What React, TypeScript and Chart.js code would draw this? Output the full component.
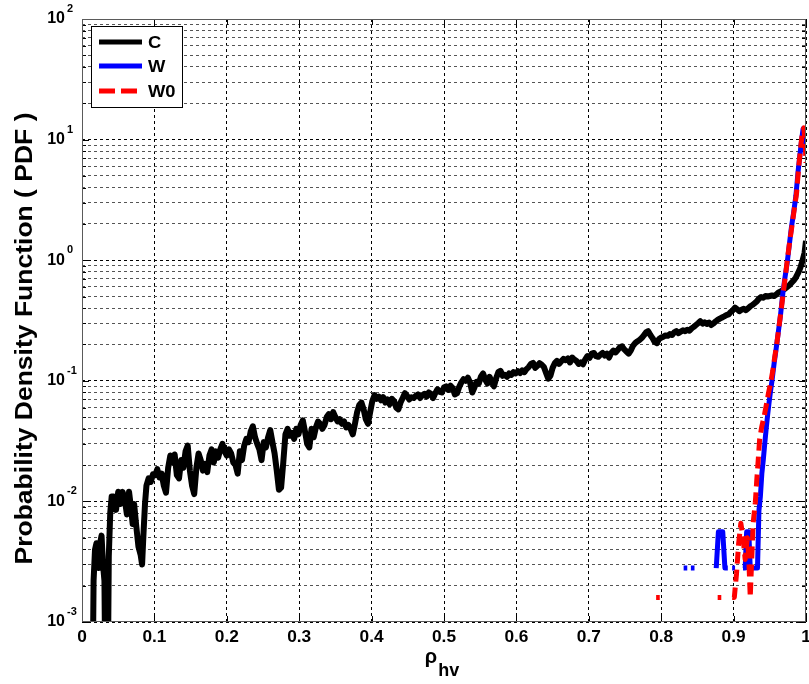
import React, { useEffect, useRef } from "react";
import { Chart, registerables } from "chart.js";

Chart.register(...registerables);

const FONT = '"Liberation Sans", Arial, Helvetica, sans-serif';

// ---------- axis ticks ----------
const X_TICKS = [0, 0.1, 0.2, 0.3, 0.4, 0.5, 0.6, 0.7, 0.8, 0.9, 1];
const X_TICK_LABELS = ["0", "0.1", "0.2", "0.3", "0.4", "0.5", "0.6", "0.7", "0.8", "0.9", "1"];
const Y_DECADES = [0.001, 0.01, 0.1, 1, 10, 100];
const Y_EXPONENTS = ["-3", "-2", "-1", "0", "1", "2"];
const Y_MINOR_MULTIPLIERS = [1, 2, 3, 4, 5, 6, 7, 8, 9];

const SERIES_LABELS = ["C", "W", "W0"];
const X_TITLE_MAIN = "\u03c1";
const X_TITLE_SUB = "hv";
const Y_TITLE = "Probability Density Function ( PDF )";

// ---------- series C (black) ----------
const C_X = [
  0.014, 0.016, 0.018, 0.020, 0.023, 0.025, 0.027, 0.029, 0.031, 0.033,
  0.035, 0.037, 0.039, 0.041, 0.044, 0.047, 0.050, 0.053, 0.056, 0.059,
  0.062, 0.065, 0.068, 0.070, 0.072, 0.075, 0.078, 0.081, 0.083, 0.085,
  0.087, 0.089,
  0.092, 0.095, 0.098, 0.101, 0.104, 0.107, 0.110, 0.113, 0.116, 0.119,
  0.122, 0.125, 0.128, 0.131, 0.134, 0.137, 0.140, 0.143, 0.146, 0.149,
  0.152, 0.155, 0.158, 0.161, 0.164, 0.167, 0.170, 0.173, 0.176, 0.179,
  0.182, 0.185, 0.188, 0.191, 0.194, 0.197, 0.200, 0.203, 0.206, 0.209,
  0.212, 0.215, 0.218, 0.221, 0.224, 0.227, 0.230, 0.233, 0.236, 0.239,
  0.242, 0.245, 0.248, 0.251, 0.254, 0.257, 0.260, 0.263, 0.266, 0.269,
  0.272, 0.275, 0.278, 0.281, 0.284, 0.287, 0.290, 0.293, 0.296, 0.299,
  0.302, 0.305, 0.308, 0.311, 0.314, 0.317, 0.320, 0.323, 0.326, 0.329,
  0.332, 0.335, 0.338, 0.341, 0.344, 0.347, 0.350, 0.353, 0.356, 0.359,
  0.362, 0.365, 0.368, 0.371, 0.374, 0.377, 0.380, 0.383, 0.386, 0.389,
  0.392, 0.395, 0.398, 0.401, 0.404, 0.407, 0.410, 0.413, 0.416, 0.419,
  0.422, 0.425, 0.428, 0.431, 0.434, 0.437, 0.440, 0.443, 0.446, 0.449,
  0.452, 0.455, 0.458, 0.461, 0.464, 0.467, 0.470, 0.473, 0.476, 0.479,
  0.482, 0.485, 0.488, 0.491, 0.494, 0.497, 0.500, 0.503, 0.506, 0.509,
  0.512, 0.515, 0.518, 0.521, 0.524, 0.527, 0.530, 0.533, 0.536, 0.539,
  0.542, 0.545, 0.548, 0.551, 0.554, 0.557, 0.560, 0.563, 0.566, 0.569,
  0.572, 0.575, 0.578, 0.581, 0.584, 0.587, 0.590, 0.593, 0.596, 0.599,
  0.602, 0.605, 0.608, 0.611, 0.614, 0.617, 0.620, 0.623, 0.626, 0.629,
  0.632, 0.635, 0.638, 0.641, 0.644, 0.647, 0.650, 0.653, 0.656, 0.659,
  0.662, 0.665, 0.668, 0.671, 0.674, 0.677, 0.680, 0.683, 0.686, 0.689,
  0.692, 0.695, 0.698, 0.701, 0.704, 0.707, 0.710, 0.713, 0.716, 0.719,
  0.722, 0.725, 0.728, 0.731, 0.734, 0.737, 0.740, 0.743, 0.746, 0.749,
  0.752, 0.755, 0.758, 0.761, 0.764, 0.767, 0.770, 0.773, 0.776, 0.779,
  0.782, 0.785, 0.788, 0.791, 0.794, 0.797, 0.800, 0.803, 0.806, 0.809,
  0.812, 0.815, 0.818, 0.821, 0.824, 0.827, 0.830, 0.833, 0.836, 0.839,
  0.842, 0.845, 0.848, 0.851, 0.854, 0.857, 0.860, 0.863, 0.866, 0.869,
  0.872, 0.875, 0.878, 0.881, 0.884, 0.887, 0.890, 0.893, 0.896, 0.899,
  0.902, 0.905, 0.908, 0.911, 0.914, 0.917, 0.920, 0.923, 0.926, 0.929,
  0.932, 0.935, 0.938, 0.941, 0.944, 0.947, 0.950, 0.953, 0.956, 0.959,
  0.962, 0.965, 0.968, 0.971, 0.974, 0.977, 0.980, 0.983, 0.986, 0.989,
  0.992, 0.995, 0.998, 1.000,
];
const C_Y = [
  0.0001, 0.0022, 0.004, 0.0045, 0.0028, 0.0045, 0.0052, 0.003, 0.0022, 0.0001,
  0.0001, 0.0035, 0.008, 0.011, 0.011, 0.0085, 0.012, 0.0095, 0.012, 0.0105,
  0.0078, 0.012, 0.0085, 0.0065, 0.0095, 0.0062, 0.0042, 0.0036, 0.003, 0.0055,
  0.0095, 0.0135,
  0.0155, 0.0145, 0.0168, 0.0165, 0.0185, 0.0158, 0.017, 0.0135, 0.0118, 0.019,
  0.024, 0.021, 0.0245, 0.0165, 0.0155, 0.022, 0.019, 0.026, 0.029, 0.018,
  0.0135, 0.0115, 0.019, 0.025, 0.022, 0.018, 0.0205, 0.0175, 0.024, 0.027,
  0.021, 0.026, 0.023, 0.027, 0.030, 0.026, 0.024, 0.027, 0.025, 0.021,
  0.020, 0.017, 0.026, 0.022, 0.029, 0.033, 0.031, 0.038, 0.042, 0.034,
  0.030, 0.027, 0.022, 0.031, 0.028, 0.034, 0.039, 0.031, 0.025, 0.018,
  0.0125, 0.013, 0.021, 0.036, 0.040, 0.035, 0.037, 0.033, 0.040, 0.036,
  0.043, 0.047, 0.038, 0.030, 0.028, 0.040, 0.034, 0.041, 0.046, 0.044,
  0.040, 0.043, 0.050, 0.053, 0.048, 0.055, 0.050, 0.046, 0.048, 0.044,
  0.046, 0.041, 0.043, 0.040, 0.036, 0.044, 0.055, 0.063, 0.066, 0.058,
  0.048, 0.044, 0.055, 0.068, 0.076, 0.071, 0.074, 0.069, 0.073, 0.066,
  0.070, 0.064, 0.071, 0.068, 0.060, 0.058, 0.066, 0.072, 0.079, 0.075,
  0.070, 0.073, 0.072, 0.075, 0.077, 0.072, 0.076, 0.078, 0.074, 0.080,
  0.078, 0.072, 0.079, 0.085, 0.081, 0.080, 0.088, 0.090, 0.084, 0.091,
  0.087, 0.077, 0.079, 0.089, 0.097, 0.103, 0.100, 0.106, 0.097, 0.080,
  0.088, 0.098, 0.095, 0.108, 0.115, 0.102, 0.095, 0.108, 0.097, 0.090,
  0.105, 0.118, 0.121, 0.110, 0.112, 0.108, 0.115, 0.112, 0.118, 0.115,
  0.120, 0.116, 0.122, 0.118, 0.125, 0.130, 0.138, 0.141, 0.128, 0.133,
  0.140, 0.136, 0.130, 0.116, 0.104, 0.110, 0.128, 0.140, 0.146, 0.138,
  0.145, 0.152, 0.148, 0.153, 0.142, 0.156, 0.150, 0.146, 0.138, 0.142,
  0.137, 0.150, 0.160, 0.155, 0.168, 0.170, 0.160, 0.158, 0.165, 0.170,
  0.162, 0.168, 0.156, 0.170, 0.178, 0.172, 0.180, 0.190, 0.193, 0.182,
  0.175, 0.168, 0.178, 0.195, 0.205, 0.212, 0.218, 0.226, 0.238, 0.252,
  0.258, 0.240, 0.226, 0.210, 0.205, 0.222, 0.228, 0.232, 0.238, 0.236,
  0.244, 0.240, 0.252, 0.258, 0.248, 0.256, 0.262, 0.258, 0.265, 0.260,
  0.272, 0.280, 0.290, 0.300, 0.312, 0.298, 0.306, 0.296, 0.304, 0.290,
  0.298, 0.310, 0.320, 0.328, 0.335, 0.342, 0.350, 0.355, 0.372, 0.385,
  0.405, 0.392, 0.378, 0.388, 0.395, 0.385, 0.398, 0.415, 0.425, 0.440,
  0.455, 0.480, 0.495, 0.488, 0.505, 0.500, 0.505, 0.510, 0.505, 0.520,
  0.540, 0.550, 0.565, 0.580, 0.600, 0.620, 0.650, 0.680, 0.720, 0.780,
  0.860, 0.980, 1.15, 1.45,
];

// ---------- series W (blue) ----------
const W_X = [
  0.831, 0.836, 0.838, 0.841, 0.846, 0.860,
  0.876, 0.879, 0.885, 0.888, 0.892, 0.895,
  0.898, 0.902, 0.905,
  0.913, 0.916, 0.918, 0.921, 0.923, 0.927, 0.930, 0.933,
  0.935, 0.937, 0.939, 0.941, 0.943, 0.945, 0.947, 0.949, 0.951, 0.953,
  0.956, 0.958, 0.960, 0.962, 0.965, 0.968, 0.971, 0.974, 0.977, 0.980,
  0.983, 0.986, 0.989, 0.992, 0.994, 0.996, 0.998, 1.000,
];
const W_Y = [
  0.0028, 0.0028, null, 0.0028, 0.0028, null,
  0.0028, 0.0056, 0.0056, 0.0028, 0.0028, null,
  0.0028, 0.0028, null,
  0.0028, 0.0028, 0.0056, 0.0056, 0.0028, 0.0028, 0.0028, 0.0028,
  0.0084, 0.011, 0.017, 0.022, 0.030, 0.040, 0.052, 0.066, 0.082, 0.100,
  0.14, 0.17, 0.21, 0.26, 0.36, 0.53, 0.72, 0.95, 1.35, 1.9,
  2.5, 3.4, 5.4, 7.8, 10, 12.3, 12.0, 9.0,
];

// ---------- series W0 (red dashed) ----------
const W0_X = [
  0.793, 0.798, 0.800, 0.878, 0.883, 0.890,
  0.898, 0.901, 0.904, 0.907, 0.910, 0.913, 0.916, 0.919, 0.921, 0.923,
  0.925, 0.927, 0.930, 0.932, 0.934, 0.936, 0.939, 0.942, 0.945, 0.948,
  0.951, 0.954, 0.957, 0.960, 0.963, 0.966, 0.969, 0.972, 0.975, 0.978,
  0.981, 0.984, 0.987, 0.990, 0.993, 0.995, 0.997, 0.999, 1.000,
];
const W0_Y = [
  0.0016, 0.0016, null, 0.0016, 0.0016, null,
  0.0016, 0.0016, 0.0025, 0.0045, 0.0066, 0.0050, 0.0033, 0.0050, 0.0033, 0.0016,
  0.0033, 0.0066, 0.0098, 0.015, 0.022, 0.033, 0.042, 0.050, 0.062, 0.078,
  0.095, 0.12, 0.16, 0.21, 0.29, 0.40, 0.56, 0.78, 1.1, 1.5,
  2.0, 2.7, 3.6, 6.0, 9.0, 11.5, 12.5, 9.0, 6.4,
];

const toPoints = (xs: number[], ys: (number | null)[]) =>
  xs.map((x, i) => ({ x, y: ys[i] }));

const yGridValues = (): number[] => {
  const out: number[] = [];
  for (let d = 0; d < Y_DECADES.length - 1; d++) {
    for (const m of Y_MINOR_MULTIPLIERS) out.push(m * Y_DECADES[d]);
  }
  out.push(Y_DECADES[Y_DECADES.length - 1]);
  return out;
};

const isDecade = (v: number) => {
  const l = Math.log10(v);
  return Math.abs(l - Math.round(l)) < 1e-6;
};

function stretchText(ctx: CanvasRenderingContext2D, text: string, x: number, y: number, align: CanvasTextAlign, sx: number) {
  ctx.save();
  ctx.translate(x, y);
  ctx.scale(sx, 1);
  ctx.textAlign = align;
  ctx.fillText(text, 0, 0);
  ctx.restore();
}

const decorPlugin = {
  id: "matlabDecor",
  beforeDatasetsDraw(chart: any) {
    const { ctx, chartArea: a, scales } = chart;
    const xs = scales.x, ys = scales.y;
    ctx.save();
    ctx.strokeStyle = "#000";
    ctx.lineWidth = 1;
    ctx.setLineDash([]);
    ctx.beginPath();
    for (const t of X_TICKS) {
      const px = Math.round(xs.getPixelForValue(t)) + 0.5;
      ctx.moveTo(px, a.bottom); ctx.lineTo(px, a.bottom - 6);
      ctx.moveTo(px, a.top); ctx.lineTo(px, a.top + 6);
    }
    for (const v of yGridValues()) {
      const py = Math.round(ys.getPixelForValue(v)) + 0.5;
      const len = isDecade(v) ? 7 : 4;
      ctx.moveTo(a.left, py); ctx.lineTo(a.left + len, py);
      ctx.moveTo(a.right, py); ctx.lineTo(a.right - len, py);
    }
    ctx.stroke();
    ctx.restore();
  },
  afterDraw(chart: any) {
    const { ctx, chartArea: a, scales } = chart;
    const xs = scales.x, ys = scales.y;
    ctx.save();
    // plot box
    ctx.strokeStyle = "#5a5a5a";
    ctx.lineWidth = 1;
    ctx.setLineDash([]);
    ctx.strokeRect(a.left + 0.5, a.top + 0.5, a.right - a.left - 1, a.bottom - a.top - 1);

    ctx.fillStyle = "#000";
    // x tick labels
    ctx.font = `bold 16px ${FONT}`;
    ctx.textBaseline = "middle";
    X_TICKS.forEach((t, i) => {
      stretchText(ctx, X_TICK_LABELS[i], xs.getPixelForValue(t), a.bottom + 16, "center", 1.08);
    });
    // y tick labels (10^n)
    Y_DECADES.forEach((v, i) => {
      const py = ys.getPixelForValue(v);
      ctx.font = `bold 16px ${FONT}`;
      ctx.textBaseline = "middle";
      stretchText(ctx, "10", a.left - 17, py, "right", 1.0);
      ctx.font = `bold 11px ${FONT}`;
      stretchText(ctx, Y_EXPONENTS[i], a.left - 15, py - 10, "left", 1.0);
    });

    // y title
    ctx.font = `bold 24px ${FONT}`;
    ctx.textBaseline = "alphabetic";
    const w = ctx.measureText(Y_TITLE).width;
    const target = 452;
    ctx.save();
    ctx.translate(32, (a.top + a.bottom) / 2 + 18);
    ctx.rotate(-Math.PI / 2);
    ctx.scale(target / w, 1);
    ctx.textAlign = "center";
    ctx.fillText(Y_TITLE, 0, 0);
    ctx.restore();

    // x title rho_hv
    const cx = (a.left + a.right) / 2;
    ctx.font = `bold 20px ${FONT}`;
    ctx.textAlign = "left";
    ctx.textBaseline = "alphabetic";
    const rw = ctx.measureText(X_TITLE_MAIN).width;
    ctx.font = `bold 18px ${FONT}`;
    const sw = ctx.measureText(X_TITLE_SUB).width;
    const startX = cx - (rw + sw + 1) / 2 - 2;
    ctx.font = `bold 20px ${FONT}`;
    ctx.fillText(X_TITLE_MAIN, startX, a.bottom + 41);
    ctx.font = `bold 18px ${FONT}`;
    ctx.fillText(X_TITLE_SUB, startX + rw + 1, a.bottom + 54);

    // legend
    const lx = a.left + 9, ly = a.top + 7, lw = 91, lh = 81;
    ctx.fillStyle = "#fff";
    ctx.fillRect(lx, ly, lw, lh);
    ctx.strokeStyle = "#000";
    ctx.lineWidth = 1;
    ctx.strokeRect(lx + 0.5, ly + 0.5, lw, lh);
    const rowsY = [ly + 16, ly + 40, ly + 65];
    chart.data.datasets.forEach((ds: any, i: number) => {
      const y = rowsY[i];
      ctx.save();
      ctx.strokeStyle = ds.borderColor;
      ctx.lineWidth = 5;
      ctx.lineCap = "butt";
      ctx.setLineDash(ds.borderDash ? [16, 6] : []);
      ctx.beginPath();
      ctx.moveTo(lx + 8, y);
      ctx.lineTo(lx + 51, y);
      ctx.stroke();
      ctx.restore();
      ctx.fillStyle = "#000";
      ctx.font = `bold 17px ${FONT}`;
      ctx.textBaseline = "middle";
      stretchText(ctx, ds.label, lx + 57, y + 1, "left", 1.08);
    });
    ctx.restore();
  },
};

export default function App() {
  const ref = useRef<HTMLCanvasElement | null>(null);
  useEffect(() => {
    if (!ref.current) return;
    const chart = new Chart(ref.current, {
      type: "line",
      data: {
        datasets: [
          {
            label: SERIES_LABELS[0],
            data: toPoints(C_X, C_Y),
            borderColor: "#000000",
            borderWidth: 6,
            pointRadius: 0,
            tension: 0,
            spanGaps: false,
            borderJoinStyle: "round",
            borderCapStyle: "butt",
            order: 2,
          },
          {
            label: SERIES_LABELS[1],
            data: toPoints(W_X, W_Y),
            borderColor: "#0000ff",
            borderWidth: 5,
            pointRadius: 0,
            tension: 0,
            spanGaps: false,
            borderJoinStyle: "round",
            borderCapStyle: "butt",
            order: 1,
          },
          {
            label: SERIES_LABELS[2],
            data: toPoints(W0_X, W0_Y),
            borderColor: "#ff0000",
            borderWidth: 5,
            borderDash: [12, 6],
            pointRadius: 0,
            tension: 0,
            spanGaps: false,
            borderJoinStyle: "round",
            borderCapStyle: "butt",
            order: 0,
          },
        ],
      } as any,
      options: {
        responsive: false,
        animation: false,
        events: [],
        layout: { padding: { left: 82, top: 19, right: 3, bottom: 62 } },
        plugins: { legend: { display: false }, tooltip: { enabled: false } },
        scales: {
          x: {
            type: "linear",
            min: 0,
            max: 1,
            afterBuildTicks: (s: any) => { s.ticks = X_TICKS.map((v) => ({ value: v })); },
            ticks: { display: false, autoSkip: false },
            grid: { color: "#000", lineWidth: 1, drawTicks: false },
            border: { display: false, dash: [3, 3] },
          },
          y: {
            type: "logarithmic",
            min: 0.001,
            max: 100,
            afterBuildTicks: (s: any) => { s.ticks = yGridValues().map((v) => ({ value: v })); },
            ticks: { display: false, autoSkip: false },
            grid: {
              drawTicks: false,
              lineWidth: 1,
              color: (c: any) => (c.tick && isDecade(c.tick.value) ? "#000" : "#555"),
            },
            border: { display: false, dash: [3, 3] },
          },
        },
      } as any,
      plugins: [decorPlugin as any],
    });
    return () => chart.destroy();
  }, []);
  return (
    <div style={{ position: "absolute", left: 0, top: 0, width: 809, height: 684, background: "#fff" }}>
      <canvas ref={ref} width={809} height={684} style={{ display: "block", width: 809, height: 684 }} />
    </div>
  );
}
